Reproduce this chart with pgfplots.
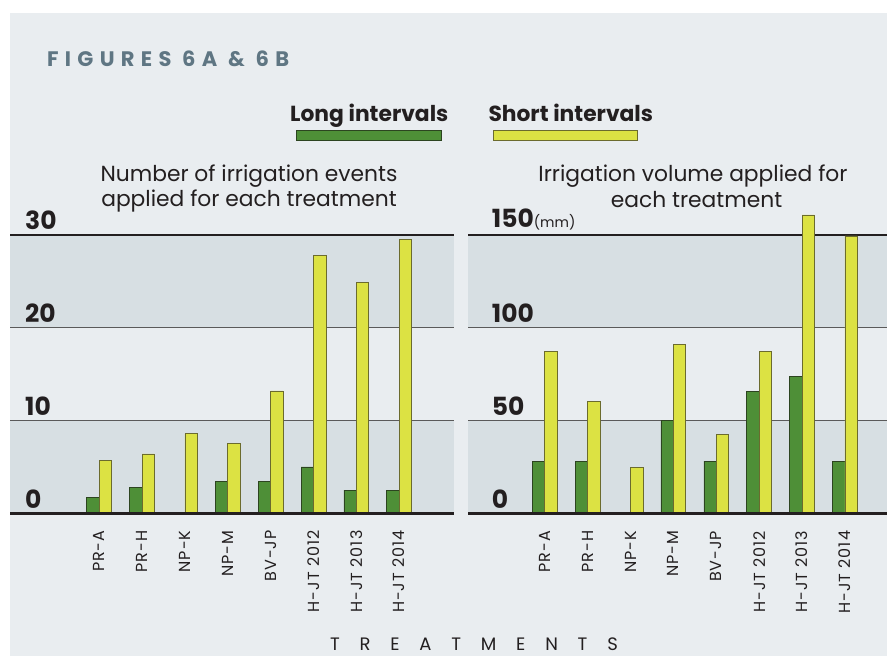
\documentclass[border=0pt]{standalone}
\usepackage{fontspec}
\setmainfont{Poppins}
\usepackage{pgfplots}
\pgfplotsset{compat=1.18}
\definecolor{bg}{HTML}{E9EDF0}
\definecolor{band}{HTML}{D7DFE3}
\definecolor{titlec}{HTML}{5F7683}
\definecolor{txt}{HTML}{231F20}
\definecolor{gridc}{HTML}{5A5A5A}
\definecolor{grn}{HTML}{4E8F37}
\definecolor{grnD}{HTML}{2C4420}
\definecolor{ylw}{HTML}{DCE243}
\definecolor{ylwD}{HTML}{6B6B2E}
\newcommand{\fs}[1]{\fontsize{#1}{#1}\selectfont}

\pgfplotstableread{
x long
0 1.75
1 2.8
3 3.4
4 3.4
5 5.0
6 2.5
7 2.5
}\eventsLong
\pgfplotstableread{
x short
0 5.7
1 6.4
2 8.6
3 7.5
4 13.2
5 27.8
6 24.9
7 29.5
}\eventsShort
\pgfplotstableread{
x long
0 28.3
1 28.3
3 50.0
4 28.3
5 66.0
6 73.7
7 28.3
}\volLong
\pgfplotstableread{
x short
0 87.3
1 60.4
2 24.9
3 91.0
4 42.8
5 87.3
6 160.8
7 149.5
}\volShort

\pgfplotsset{
  panel/.style={
    scale only axis, clip=false, axis on top,
    axis line style={draw=none}, major tick length=0pt,
    xtick={0,...,7},
    xticklabels={PR-A,PR-H,NP-K,NP-M,BV-JP,H-JT 2012,H-JT 2013,H-JT 2014},
    xticklabel style={yshift=-17pt, rotate=90, anchor=east, inner sep=0pt,
      text=txt, font=\fs{16}\addfontfeature{LetterSpace=6}},
    yticklabel style={anchor=south west, inner sep=0pt, yshift=5pt,
      text=txt, font=\fs{25}\bfseries},
  },
  barL/.style={ybar, bar width=12.4pt, bar shift=-6.2pt, fill=grn, draw=grnD, line width=0.6pt},
  barS/.style={ybar, bar width=12.4pt, bar shift=6.2pt, fill=ylw, draw=ylwD, line width=0.6pt},
}

\begin{document}
\begin{tikzpicture}[x=1pt,y=1pt]
\fill[white] (0,0) rectangle (887,656);
\useasboundingbox (0,0) rectangle (887,656);
\fill[bg] (10,0) rectangle (887,643);

\node[anchor=base west, inner sep=0pt, text=titlec,
  font=\fs{21}\bfseries\addfontfeature{LetterSpace=30}] at (47,589.3) {FIGURES 6A \& 6B};

% legend
\node[anchor=base west, inner sep=0pt, text=txt, font=\fs{21.8}\bfseries] at (290,534.3) {Long intervals};
\node[anchor=base west, inner sep=0pt, text=txt, font=\fs{21.8}\bfseries] at (488.3,534.3) {Short intervals};
\filldraw[fill=grn, draw=grnD, line width=0.8pt] (296.7,515.3) rectangle (441.7,526);
\filldraw[fill=ylw, draw=ylwD, line width=0.8pt] (493.3,515.3) rectangle (637.3,526);

% panel titles
\node[anchor=base, inner sep=0pt, text=txt, font=\fs{21.8}] at (249,474.3) {Number of irrigation events};
\node[anchor=base, inner sep=0pt, text=txt, font=\fs{21.8}] at (249,449.3) {applied for each treatment};
\node[anchor=base, inner sep=0pt, text=txt, font=\fs{21.8}] at (693,474.3) {Irrigation volume applied for};
\node[anchor=base, inner sep=0pt, text=txt, font=\fs{21.8}] at (696.5,448) {each treatment};

\node[anchor=base, inner sep=0pt, text=txt, font=\fs{18}\addfontfeature{LetterSpace=110}] at (474,5) {TREATMENTS};

% left panel
\begin{axis}[panel, at={(10pt,142.7pt)}, anchor=south west,
  width=444pt, height=278.3pt,
  xmin=-2.08, xmax=8.28, ymin=0, ymax=30,
  ytick={0,10,20,30}, yticklabels={0,10,20,30},
  yticklabel style={xshift=15pt}]
\fill[band] (axis cs:-2.08,0) rectangle (axis cs:8.28,10);
\fill[band] (axis cs:-2.08,20) rectangle (axis cs:8.28,30);
\draw[gridc, line width=1.2pt] (axis cs:-2.08,10) -- (axis cs:8.28,10);
\draw[gridc, line width=1.2pt] (axis cs:-2.08,20) -- (axis cs:8.28,20);
\draw[txt, line width=2.8pt] (axis cs:-2.08,30) -- (axis cs:8.28,30);
\addplot[barL] table[x=x, y=long] {\eventsLong};
\addplot[barS] table[x=x, y=short] {\eventsShort};
\draw[txt, line width=2.8pt] (axis cs:-2.08,0) -- (axis cs:8.28,0);
\end{axis}

% right panel
\begin{axis}[panel, at={(468.3pt,142.3pt)}, anchor=south west,
  width=418.7pt, height=278.7pt,
  xmin=-1.78, xmax=7.98, ymin=0, ymax=150,
  ytick={0,50,100,150}, yticklabels={0,50,100,{150\mdseries\fs{14}(mm)}},
  yticklabel style={xshift=23.4pt}]
\fill[band] (axis cs:-1.78,0) rectangle (axis cs:7.98,50);
\fill[band] (axis cs:-1.78,100) rectangle (axis cs:7.98,150);
\draw[gridc, line width=1.2pt] (axis cs:-1.78,50) -- (axis cs:7.98,50);
\draw[gridc, line width=1.2pt] (axis cs:-1.78,100) -- (axis cs:7.98,100);
\draw[txt, line width=2.8pt] (axis cs:-1.78,150) -- (axis cs:7.98,150);
\addplot[barL] table[x=x, y=long] {\volLong};
\addplot[barS] table[x=x, y=short] {\volShort};
\draw[txt, line width=2.8pt] (axis cs:-1.78,0) -- (axis cs:7.98,0);
\end{axis}
\end{tikzpicture}
\end{document}
